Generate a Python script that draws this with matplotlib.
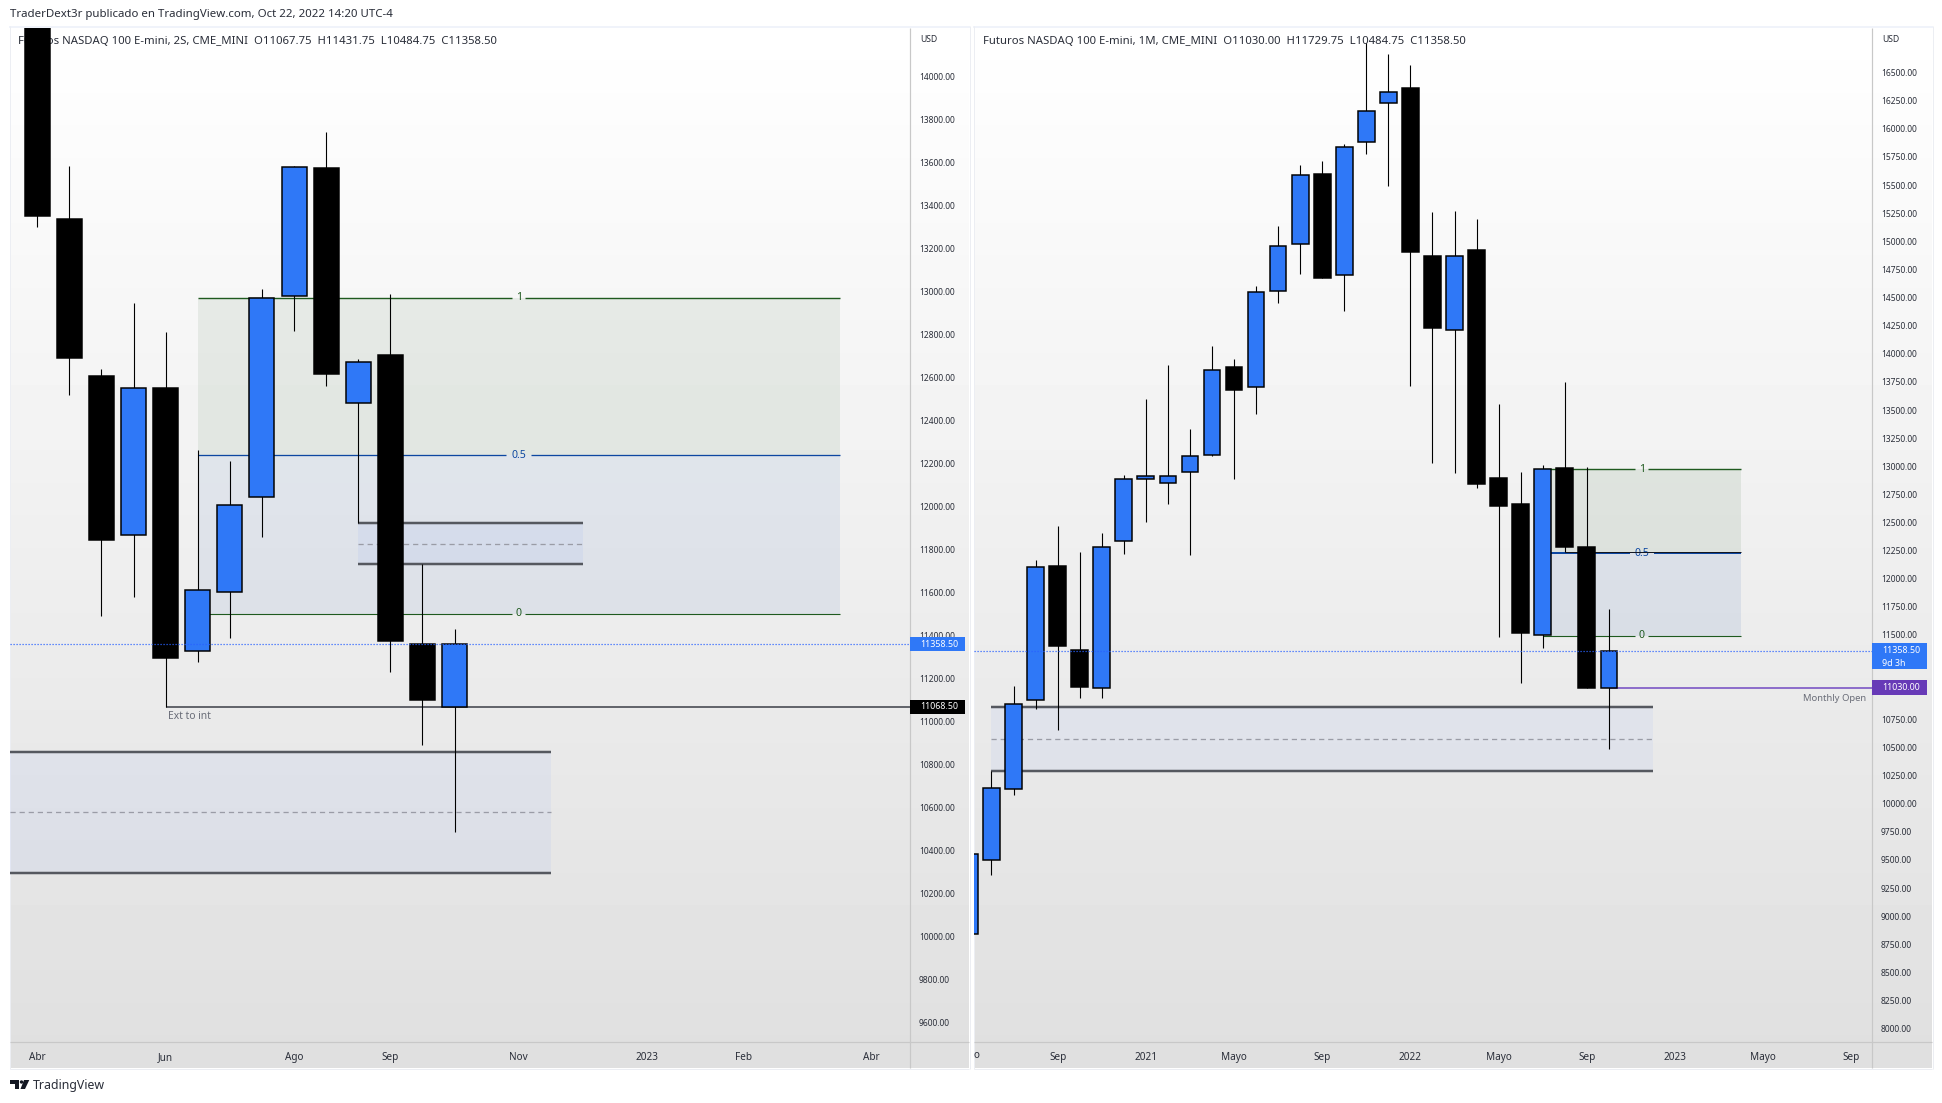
"""Two TradingView panes of NASDAQ 100 E-mini futures: 2 month and 1 month candles."""
import numpy as np
import matplotlib
matplotlib.use("Agg")
import matplotlib.pyplot as plt
from matplotlib.patches import Polygon, Rectangle

plt.rcParams["font.family"] = ["Noto Sans", "DejaVu Sans"]

W, H = 1942, 1103

# left pane, 2 month candles
left_open = [14500, 13338, 12607, 11867, 12551, 11330, 11603, 12042, 12980, 13574, 12483, 12705, 11362, 11067.75]
left_high = [14700, 13584, 12640, 12946, 12811, 12263, 12212, 13011, 13582, 13742, 12688, 12989, 11731, 11431.75]
left_low = [13300, 12520, 11492, 11580, 11067, 11277, 11387, 11860, 12817, 12561, 11925, 11231, 10892, 10484.75]
left_close = [13352, 12692, 11844, 12550, 11297, 11610, 12005, 12972, 13577, 12618, 12670, 11375, 11102, 11358.5]
left_yticks = list(range(9600, 14001, 200))
left_xtick_pos = [0, 4, 8, 11, 15, 19, 22, 26]
left_xtick_labels = ["Abr", "Jun", "Ago", "Sep", "Nov", "2023", "Feb", "Abr"]

# right pane, 1 month candles
right_open = [8843, 9500, 10130, 10926, 12110, 11367, 11032, 12336, 12884, 12850, 12953, 13096, 13882,
              13701, 14555, 14973, 15599, 14705, 15886, 16232, 16360, 14870, 14215, 14923, 12897, 12666,
              11499, 12987, 12286, 11030]
right_high = [9600, 10290, 11051, 12163, 12470, 12241, 12407, 12922, 13598, 13900, 13333, 14072, 13957,
              14605, 15138, 15680, 15715, 15864, 16765, 16665, 16569, 15263, 15269, 15200, 13554, 12950,
              13012, 13746, 12990, 11729.75]
right_low = [8843, 9366, 10077, 10841, 10653, 10944, 10938, 12219, 12502, 12666, 12209, 13090, 12889,
             13467, 14452, 14711, 14673, 14377, 15780, 15493, 13710, 13031, 12944, 12809, 11486, 11070,
             11383, 12240, 11029, 10484.75]
right_close = [9557, 10142, 10888, 12106, 11402, 11038, 12283, 12884, 12912, 12912, 13090, 13854, 13682,
               14549, 14957, 15587, 14673, 15836, 16157, 16325, 14901, 14225, 14867, 12844, 12644, 11518,
               12978, 12280, 11029, 11358.5]
# 11000 and 11250 sit behind the price tags in the original
right_yticks = [t for t in range(8000, 16501, 250) if t not in (11000, 11250)]
right_xtick_pos = [4, 8, 12, 16, 20, 24, 28, 32, 36, 40]
right_xtick_labels = ["Sep", "2021", "Mayo", "Sep", "2022", "Mayo", "Sep", "2023", "Mayo", "Sep"]

UP = "#2f78f7"
DOWN = "#000000"
GREEN = "#1f5a1f"
NAVY = "#0d47a1"
FILL_BLUE = "#2962ff"
GREY = "#55585f"
TEXT = "#2a2e39"


def px(n):
    return n * 0.72


def make_axes(fig, x0, x1, y0, y1, xlim, ylim):
    ax = fig.add_axes([x0 / W, 1 - y1 / H, (x1 - x0) / W, (y1 - y0) / H])
    ax.patch.set_alpha(0)
    ax.set_xlim(*xlim)
    ax.set_ylim(*ylim)
    for s in ax.spines.values():
        s.set_visible(False)
    return ax


def draw_candles(ax, o, h, l, c, width):
    x = np.arange(len(o))
    o, h, l, c = map(np.array, (o, h, l, c))
    colors = [UP if b >= a else DOWN for a, b in zip(o, c)]
    ax.vlines(x, l, h, color="black", lw=px(1.1), zorder=5)
    ax.bar(x, c - o, bottom=o, width=width, color=colors, edgecolor="black", lw=px(1.5), zorder=6)


def set_ticks(ax, yticks, xpos, xlabels):
    ax.yaxis.tick_right()
    ax.set_yticks(yticks)
    ax.set_yticklabels([f"{t:.2f}" for t in yticks], fontsize=6.1, color=TEXT)
    ax.tick_params(axis="y", length=0, pad=6.5)
    ax.set_xticks(xpos)
    ax.set_xticklabels(xlabels, fontsize=7.2, color=TEXT)
    ax.tick_params(axis="x", length=0, pad=7)
    for t in ax.get_xticklabels():
        if t.get_text().isdigit():
            t.set_fontweight("bold")


def fib(ax, x0, x1, lo, mid, hi, label_x, ppx, alpha=0.08, mid_lw=1.3):
    ax.fill_between([x0, x1], mid, hi, color=GREEN, alpha=alpha, lw=0, zorder=1)
    ax.fill_between([x0, x1], lo, mid, color=NAVY, alpha=alpha * 0.95, lw=0, zorder=1)
    for level, name, col, lw, g in [(hi, "1", GREEN, 1.4, 6.5), (mid, "0.5", NAVY, mid_lw, 12.4), (lo, "0", GREEN, 1.1, 6.5)]:
        ax.hlines(level, x0, label_x - g / ppx, color=col, lw=px(lw), zorder=2)
        ax.hlines(level, label_x + g / ppx, x1, color=col, lw=px(lw), zorder=2)
        ax.text(label_x, level, name, color=col, fontsize=7.6, ha="center", va="center", zorder=2)


def zone(ax, x0, x1, top, mid, bottom, alpha=0.05, lw=2.5):
    ax.fill_between([x0, x1], bottom, top, color=FILL_BLUE, alpha=alpha, lw=0, zorder=1.5)
    ax.hlines([top, bottom], x0, x1, color=GREY, lw=px(lw), zorder=3)
    ax.hlines(mid, x0, x1, color="#9a9ca6", lw=px(1.3), linestyles=(0, (4, 3)), zorder=3)


def price_tag(ax, y_val, text, color, axis_w, h_px, ppu, extra=None):
    # tag sits in the price axis, x in axes fraction past the pane
    tr = ax.get_yaxis_transform()
    pane_w = ax.get_position().width * W
    if extra is None:
        top = y_val + h_px / 2 / ppu
    else:
        top = y_val + 7.5 / ppu
    ax.add_patch(Rectangle((1, top - h_px / ppu), axis_w / pane_w, h_px / ppu, transform=tr, color=color,
                           clip_on=False, lw=0, zorder=8))
    ax.text(1 + 10 / pane_w, y_val, text, transform=tr, color="white", fontsize=6.4,
            fontweight="semibold", va="center", ha="left", zorder=9, clip_on=False)
    if extra:
        ax.text(1 + 10 / pane_w, y_val - 12.5 / ppu, extra, transform=tr, color="white",
                fontsize=6.4, va="center", ha="left", zorder=9, clip_on=False)


fig = plt.figure(figsize=(W / 100, H / 100), dpi=100, facecolor="white")

# page level layer in pixel coordinates
bg = fig.add_axes([0, 0, 1, 1])
bg.axis("off")
grad = np.linspace(1, 0.875, 256).reshape(-1, 1)
for x0, x1 in [(10, 969), (974, 1932)]:
    bg.imshow(grad, extent=(x0, x1, 1068, 28), cmap="gray", vmin=0, vmax=1, aspect="auto", zorder=0)
    bg.add_patch(Rectangle((x0 - 1, 26), x1 - x0 + 2, 2, color="#f0f3fa", lw=0, zorder=1))
    bg.vlines([x0 - 0.5, x1 + 0.5], 26, 1069, color="#eceef3", lw=px(1), zorder=1)
    bg.hlines(1068.5, x0, x1, color="#eceef3", lw=px(1), zorder=1)
    bg.hlines(1042, x0, x1, color="#c8c8c8", lw=px(1.2), zorder=1)
for x in (910, 1872):
    bg.vlines(x, 28, 1068, color="#c8c8c8", lw=px(1.2), zorder=1)
bg.set_xlim(0, W)
bg.set_ylim(H, 0)

bg.text(10, 15, "TraderDext3r publicado en TradingView.com, Oct 22, 2022 14:20 UTC-4", fontsize=8.25,
        color=TEXT, va="center")
bg.text(18, 42, "Futuros NASDAQ 100 E-mini, 2S, CME_MINI  O11067.75  H11431.75  L10484.75  C11358.50",
        fontsize=8.15, color=TEXT, va="center", zorder=12)
bg.text(983, 42, "Futuros NASDAQ 100 E-mini, 1M, CME_MINI  O11030.00  H11729.75  L10484.75  C11358.50",
        fontsize=8.15, color=TEXT, va="center", zorder=12)
bg.text(920, 40, "USD", fontsize=6.2, color=TEXT, va="center")
bg.text(1882, 40, "USD", fontsize=6.2, color=TEXT, va="center")
bg.text(974, 1055, "o", fontsize=7.2, color=TEXT, va="center")

# logo
bg.add_patch(Polygon([(10, 1080), (19, 1080), (19, 1089), (14.5, 1089), (14.5, 1084), (10, 1084)], color="#131722", lw=0))
bg.add_patch(Polygon([(24, 1080), (29.3, 1080), (25, 1089), (20.5, 1089)], color="#131722", lw=0))
bg.add_patch(plt.Circle((21.5, 1082), 1.7, color="#131722", lw=0))
bg.text(33, 1086, "TradingView", fontsize=8.9, color="#2a2e39", va="center")

# left pane
ax1 = make_axes(fig, 10, 910, 28, 1042, ((10 - 37.2) / 32.1, (910 - 37.2) / 32.1),
                (14000 - (1042 - 76.5) / 0.215, 14000 + (76.5 - 28) / 0.215))
set_ticks(ax1, left_yticks, left_xtick_pos, left_xtick_labels)
fib(ax1, 5, 25, 11502, 12238, 12972, 15, 32.1)
zone(ax1, 10, 17, 11922, 11827, 11734)
zone(ax1, -0.85, 16, 10859, 10577, 10297)
ax1.hlines(11068.5, 4, 27.2, color=GREY, lw=px(1.8), zorder=3)
ax1.text(4.08, 11068.5 - 47, "Ext to int", color="#6a6d78", fontsize=7.4, va="center", zorder=3)
ax1.axhline(11358.5, color="#2962ff", lw=px(1.2), ls=(0, (1, 1.5)), zorder=7)
draw_candles(ax1, left_open, left_high, left_low, left_close, 25 / 32.1)
price_tag(ax1, 11358.5, "11358.50", UP, 55, 14, 0.215)
price_tag(ax1, 11068.5, "11068.50", "black", 55, 14.5, 0.215)

# right pane
ax2 = make_axes(fig, 974, 1872, 28, 1042, ((974 - 969.4) / 22.05, (1872 - 969.4) / 22.05),
                (16500 - (1042 - 72.6) / 0.11248, 16500 + (72.6 - 28) / 0.11248))
set_ticks(ax2, right_yticks, right_xtick_pos, right_xtick_labels)
fib(ax2, 26, 35, 11492, 12225, 12975, 30.5, 22.05, alpha=0.09, mid_lw=2)
ax2.hlines(12237, 27, 35, color="#131722", lw=px(1), zorder=2)
zone(ax2, 1, 31, 10857, 10572, 10290)
ax2.hlines(11030, 29, 40.93, color="#8e6fcb", lw=px(2), zorder=3)
ax2.text(40.65, 10933, "Monthly Open", color="#6a6d78", fontsize=6.8, va="center", ha="right", zorder=3)
ax2.axhline(11358.5, color="#2962ff", lw=px(1.2), ls=(0, (1, 1.5)), zorder=7)
draw_candles(ax2, right_open, right_high, right_low, right_close, 16.7 / 22.05)
price_tag(ax2, 11358.5, "11358.50", UP, 55, 26, 0.11248, extra="9d 3h")
price_tag(ax2, 11030, "11030.00", "#673ab7", 55, 15, 0.11248)

fig.savefig("out.png", dpi=100)
